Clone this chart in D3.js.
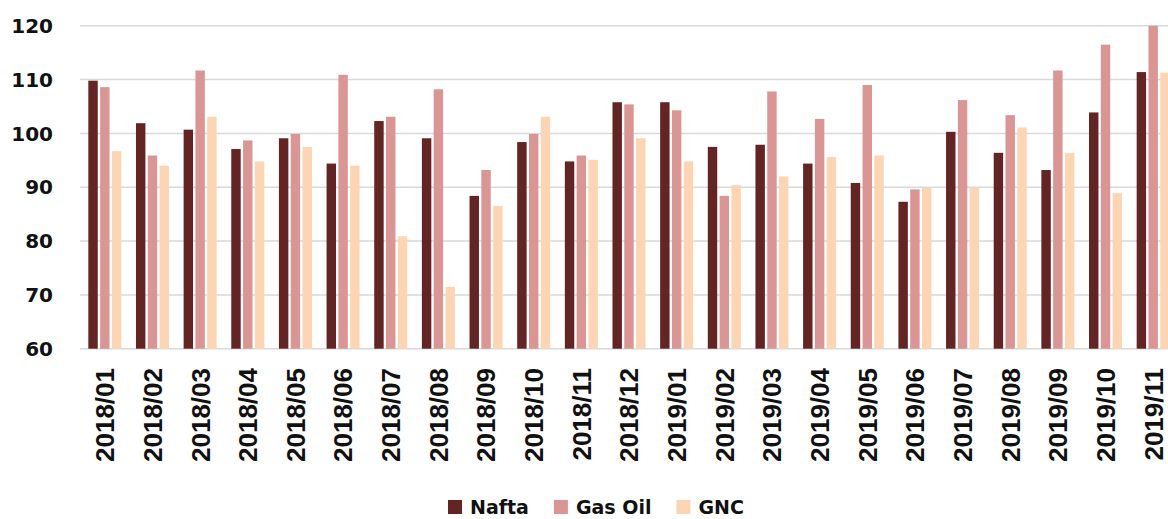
<!DOCTYPE html>
<html>
<head>
<meta charset="utf-8">
<script src="https://cdn.jsdelivr.net/npm/d3@7"></script>
<style>
  html, body { margin: 0; padding: 0; background: #fff; }
  svg { display: block; }
</style>
</head>
<body>
<div class="svg-mount"></div>
<script>
const months = [
  "2018/01", "2018/02", "2018/03", "2018/04", "2018/05", "2018/06",
  "2018/07", "2018/08", "2018/09", "2018/10", "2018/11", "2018/12",
  "2019/01", "2019/02", "2019/03", "2019/04", "2019/05", "2019/06",
  "2019/07", "2019/08", "2019/09", "2019/10", "2019/11",
];
const seriesNames = ["Nafta", "Gas Oil", "GNC"];
const nafta = [109.8, 101.9, 100.7, 97.1, 99.1, 94.4, 102.3, 99.1, 88.4, 98.4, 94.8, 105.8,
  105.8, 97.5, 97.9, 94.4, 90.8, 87.3, 100.3, 96.4, 93.2, 103.9, 111.4];
const gasOil = [108.6, 95.9, 111.7, 98.7, 99.9, 110.9, 103.1, 108.2, 93.2, 99.9, 95.9, 105.4,
  104.3, 88.4, 107.8, 102.7, 109.0, 89.6, 106.2, 103.4, 111.7, 116.5, 120];
const gnc = [96.7, 94.0, 103.1, 94.8, 97.5, 94.0, 80.9, 71.5, 86.5, 103.1, 95.1, 99.1,
  94.8, 90.4, 92.0, 95.6, 95.9, 89.9, 89.9, 101.1, 96.4, 88.9, 111.3];
const yTicks = [60, 70, 80, 90, 100, 110, 120];
const colors = ["#632523", "#d99694", "#fcd5b4"];

const width = 1168;
const height = 519;
const plot = { left: 81, right: 1177, top: 25.8, bottom: 348.7 };

const svg = d3
  .select(".svg-mount")
  .append("svg")
  .attr("width", width)
  .attr("height", height);

const rows = months.map((m, i) => ({ month: m, values: [nafta[i], gasOil[i], gnc[i]] }));

const x = d3
  .scaleBand()
  .domain(months)
  .range([plot.left, plot.right])
  .paddingInner(0.307)
  .paddingOuter(0.1535);

const xSub = d3
  .scaleBand()
  .domain(seriesNames)
  .range([0, x.bandwidth()])
  .paddingInner(0.2);

const y = d3.scaleLinear().domain([60, 120]).range([plot.bottom, plot.top]);

// gridlines
svg
  .append("g")
  .selectAll("line")
  .data(yTicks)
  .join("line")
  .attr("x1", 80)
  .attr("x2", width)
  .attr("y1", (d) => y(d))
  .attr("y2", (d) => y(d))
  .attr("stroke", "#d9d9d9")
  .attr("stroke-width", 1.5);

// y labels
svg
  .append("g")
  .selectAll("text")
  .data(yTicks)
  .join("text")
  .attr("x", 53)
  .attr("y", (d) => y(d))
  .attr("dy", "0.36em")
  .attr("text-anchor", "end")
  .attr("font-family", "DejaVu Sans")
  .attr("font-weight", "bold")
  .attr("font-size", 20)
  .attr("fill", "#111")
  .text((d) => d);

// bars
const groups = svg
  .append("g")
  .selectAll("g")
  .data(rows)
  .join("g")
  .attr("transform", (d) => `translate(${x(d.month)},0)`);

groups
  .selectAll("rect")
  .data((d) => d.values.map((v, i) => ({ key: seriesNames[i], value: v, i })))
  .join("rect")
  .attr("x", (d) => xSub(d.key))
  .attr("width", xSub.bandwidth())
  .attr("y", (d) => y(Math.min(d.value, 120)))
  .attr("height", (d) => y(60) - y(Math.min(d.value, 120)))
  .attr("fill", (d) => colors[d.i]);

// x labels
svg
  .append("g")
  .selectAll("text")
  .data(months)
  .join("text")
  .attr("transform", (d) => `translate(${x(d) + x.bandwidth() / 2},368) rotate(-90)`)
  .attr("dy", "0.36em")
  .attr("text-anchor", "end")
  .attr("font-family", "Liberation Sans")
  .attr("font-weight", "bold")
  .attr("font-size", 26)
  .attr("fill", "#111")
  .text((d) => d);

// legend
const legend = svg.append("g");
let lx = 448;
seriesNames.forEach((name, i) => {
  legend
    .append("rect")
    .attr("x", lx)
    .attr("y", 500)
    .attr("width", 14)
    .attr("height", 14)
    .attr("fill", colors[i]);
  const t = legend
    .append("text")
    .attr("x", lx + 22)
    .attr("y", 514)
    .attr("font-family", "DejaVu Sans")
    .attr("font-weight", "bold")
    .attr("font-size", 19)
    .attr("fill", "#111")
    .text(name);
  lx += 22 + t.node().getComputedTextLength() + 25;
});
</script>
</body>
</html>
